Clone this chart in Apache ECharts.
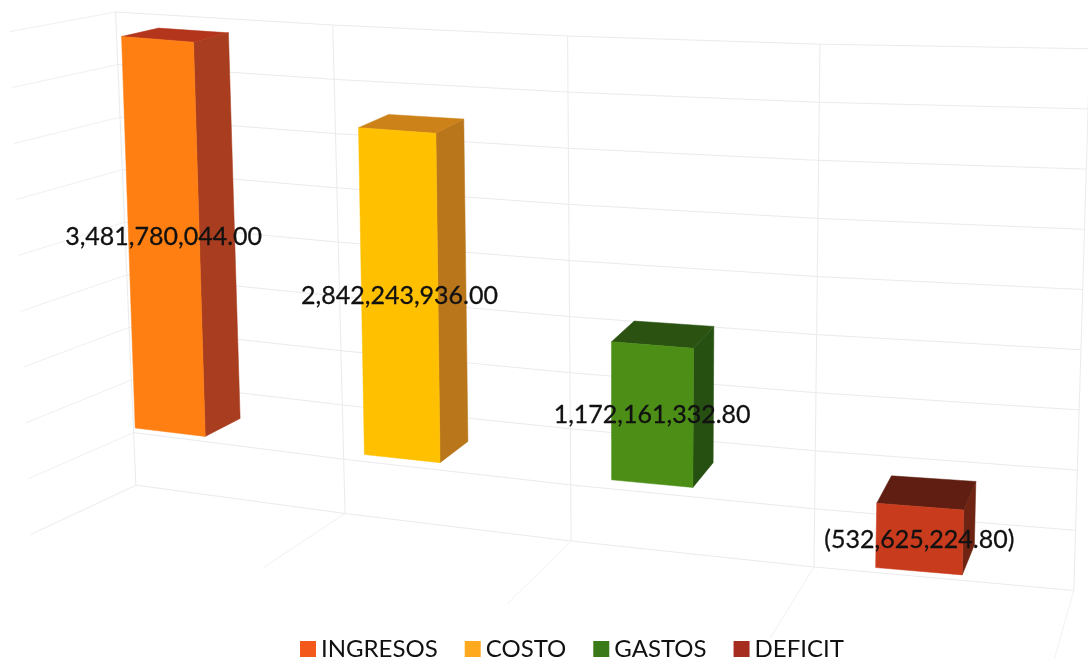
<!DOCTYPE html>
<html lang="es">
<head>
    <meta charset="utf-8"/>
    <title>Ingresos, costo, gastos y deficit</title>
    <style>
        html, body { margin: 0; padding: 0; background: #fff; }
        #main { width: 1088px; height: 659px; }
    </style>
</head>
<body>
<div id="main"></div>
<script src="https://cdn.jsdelivr.net/npm/echarts@6/dist/echarts.min.js"></script>
<script>
    var categories = ['INGRESOS', 'COSTO', 'GASTOS', 'DEFICIT'];
    var values = [3481780044.00, 2842243936.00, 1172161332.80, -532625224.80];
    var tickValues = [-1000000000, -500000000, 0, 500000000, 1000000000, 1500000000, 2000000000, 2500000000, 3000000000, 3500000000];

    var legendColors = ['#f2591b', '#ffa91e', '#3b7a18', '#a52c1f'];
    var frontColors = ['#ff7f12', '#ffc000', '#4c8e16', '#c93b1d'];
    var sideColors = ['#a83d1f', '#b9761b', '#265011', '#6f2413'];
    var topColors = ['#b3361c', '#cc8219', '#2b5211', '#5f1e11'];

    var fontName = 'Lato, "Open Sans", sans-serif';
    var barHalf = 0.157;
    var wallDepth = 1.8;
    var floorDepth = -0.7;
    var sideWallDepth = -0.9;

    // the picture is a photo of a 3D chart: bend the flat axis position into it
    function project(api, u, value, depth, onWall) {
        var zero = api.coord([0, 0]);
        var t = u;
        var gx = 170 + 223 * t + 9 * t * t;
        var h = zero[1] - api.coord([0, value])[1];
        var X = gx - 135;
        var sx = gx + (gx - 620) * 0.000072 * h;
        var sy = 428 + 0.1015 * X + 0.000028 * X * (739 - X) - h * (1 + 0.0001 * X);
        sx += depth * (37 - 0.03 * X);
        sy += depth * (0.022 * h - 17 - 0.014 * X);
        if (onWall) {
            // walls sit further back, their lines fan out a bit more than the bars
            var floorFix = -10.5 + 0.021 * X;
            var topFix = -2.8 + 0.003 * X;
            sy += floorFix + (topFix - floorFix) * (h + 112) / 505;
        }
        return [sx, sy];
    }

    function poly(points, fill) {
        return {
            type: 'polygon',
            shape: {points: points},
            style: {fill: fill, stroke: fill, lineWidth: 0.5}
        };
    }

    function line(points, color) {
        return {
            type: 'polyline',
            shape: {points: points},
            style: {fill: null, stroke: color, lineWidth: 1}
        };
    }

    function labelText(value) {
        var text = echarts.format.addCommas(Math.abs(value).toFixed(2));
        return value < 0 ? '(' + text + ')' : text;
    }

    function renderBar(params, api) {
        var i = api.value(0);
        var v = api.value(1);
        var hi = Math.max(v, 0);
        var lo = Math.min(v, 0);
        var l = i - barHalf;
        var r = i + barHalf;
        var mid = project(api, i, v / 2, 0);
        return {
            type: 'group',
            children: [
                poly([project(api, r, lo, 0), project(api, r, lo, 1), project(api, r, hi, 1), project(api, r, hi, 0)], sideColors[i]),
                poly([project(api, l, hi, 0), project(api, r, hi, 0), project(api, r, hi, 1), project(api, l, hi, 1)], topColors[i]),
                poly([project(api, l, lo, 0), project(api, r, lo, 0), project(api, r, hi, 0), project(api, l, hi, 0)], frontColors[i]),
                {
                    type: 'text',
                    style: {
                        text: labelText(v),
                        x: mid[0],
                        y: mid[1] + 1,
                        align: 'center',
                        verticalAlign: 'middle',
                        fill: '#111',
                        stroke: '#111',
                        lineWidth: 0.3,
                        font: '25px ' + fontName
                    }
                }
            ]
        };
    }

    // back wall and left wall lines, one per tick
    function renderTick(params, api) {
        var v = api.value(1);
        var points = [];
        for (var k = 0; k <= categories.length; k++) {
            points.push(project(api, k - 0.5, v, wallDepth, true));
        }
        return {
            type: 'group',
            children: [
                line(points, '#ebebed'),
                line([project(api, -0.5, v, wallDepth, true), project(api, -0.5, v, sideWallDepth, true)], '#f0f0f2')
            ]
        };
    }

    // uprights on the back wall and their floor lines, one per category border
    function renderBorder(params, api) {
        var u = api.value(0) - 0.5;
        var lowest = tickValues[0];
        var highest = tickValues[tickValues.length - 1];
        return {
            type: 'group',
            children: [
                line([project(api, u, lowest, wallDepth, true), project(api, u, highest, wallDepth, true)], '#ebebed'),
                line([project(api, u, lowest, wallDepth, true), project(api, u, lowest, floorDepth, true)], '#f1f1f3')
            ]
        };
    }

    var tickData = tickValues.map(function (v) { return [0, v]; });
    var borderData = [];
    for (var b = 0; b <= categories.length; b++) {
        borderData.push([b, 0]);
    }

    var series = [
        {type: 'custom', name: 'ticks', renderItem: renderTick, data: tickData, silent: true, clip: false},
        {type: 'custom', name: 'borders', renderItem: renderBorder, data: borderData, silent: true, clip: false}
    ];
    categories.forEach(function (name, i) {
        series.push({
            type: 'custom',
            name: name,
            renderItem: renderBar,
            data: [[i, values[i]]],
            itemStyle: {color: legendColors[i]},
            clip: false
        });
    });

    var myChart = echarts.init(document.getElementById('main'));
    myChart.setOption({
        animation: false,
        backgroundColor: '#fff',
        grid: {left: 46, width: 992, top: 60, height: 506},
        xAxis: {type: 'category', data: categories, show: false},
        yAxis: {type: 'value', min: -1000000000, max: 3500000000, interval: 500000000, show: false},
        legend: {
            data: categories,
            left: 295,
            top: 632,
            icon: 'rect',
            itemWidth: 16,
            itemHeight: 16,
            itemGap: 27,
            textStyle: {fontFamily: fontName, fontSize: 24, color: '#111'}
        },
        series: series
    });
</script>
</body>
</html>
